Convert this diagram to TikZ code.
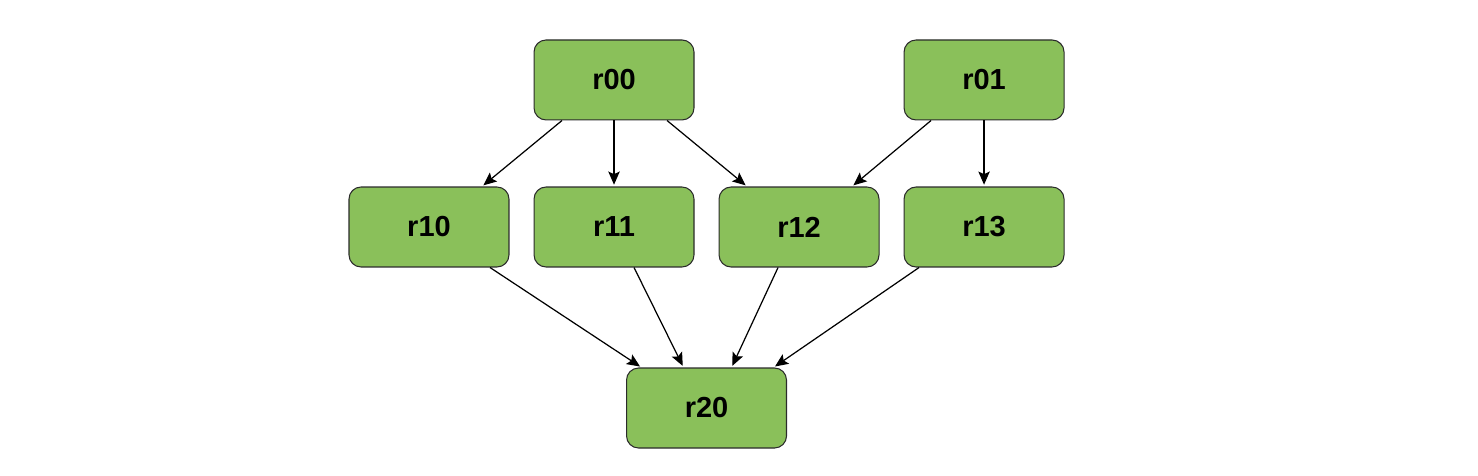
\documentclass[tikz,border=0pt]{standalone}
\usepackage{fontspec}
\setmainfont{Liberation Sans}
\usetikzlibrary{arrows.meta,calc,positioning}

\definecolor{boxgreen}{HTML}{8AC05A}
\definecolor{boxline}{HTML}{2B2B2B}

\begin{document}
\begin{tikzpicture}[x=0.02cm,y=-0.02cm,>={Stealth[length=7.5pt,width=6.5pt,inset=1.5pt]},shorten >=1pt,node distance=0.48cm,align=center,
	reg/.style={draw=boxline,line width=0.6pt,fill=boxgreen,rounded corners=0.24cm,minimum width=3.2cm,minimum height=1.6cm,inner sep=0pt,font=\fontsize{16.5}{19}\selectfont\bfseries},
	link/.style={->,line width=0.7pt,color=black}]
	\useasboundingbox (0,0) rectangle (1478,476);
		\node[reg] (r10) at (429,227) {r10};
		\node[reg] [right=of r10] (r11) {r11};
		\node[reg] [right=of r11] (r12) {r12};
		\node[reg] [right=of r12] (r13) {r13};
		\node[reg] [above=1.32cm of r11] (r00) {r00};
		\node[reg] [above=1.32cm of r13] (r01) {r01};
		\node[reg] [below=2cm of {$(r11.south)!0.5!(r12.south)$}] (r20) {r20};
		\path[link]
			($(r00.south)+(-52,0)$) edge ($(r10.north)+(53,0)$)
			(r00.south) edge (r11.north)
			($(r00.south)+(53,0)$) edge ($(r12.north)+(-52,0)$)
			($(r01.south)+(-53,0)$) edge ($(r12.north)+(53,0)$)
			(r01.south) edge (r13.north)
			($(r10.south)+(61,0)$) edge ($(r20.north)+(-65,0)$)
			($(r11.south)+(20,0)$) edge ($(r20.north)+(-23,0)$)
			($(r12.south)+(-21,0)$) edge ($(r20.north)+(25,0)$)
			($(r13.south)+(-65,0)$) edge ($(r20.north)+(67,0)$);
	\end{tikzpicture}
\end{document}
